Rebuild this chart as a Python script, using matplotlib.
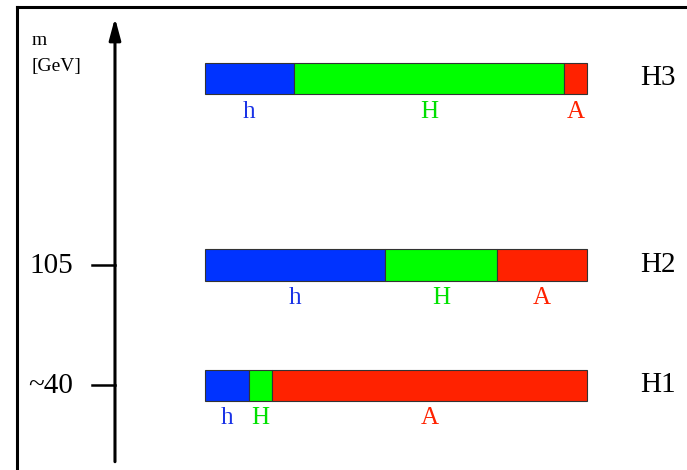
import matplotlib
matplotlib.use('Agg')
import matplotlib.pyplot as plt
import numpy as np

plt.rcParams['font.family'] = ['Liberation Serif', 'DejaVu Serif']

# schematic mass levels [GeV] of the three hierarchies and their fractions
levels = ['H1', 'H2', 'H3']
masses = [40, 105, 206]
tick_labels = ['~40', '105']
tick_masses = [40, 105]
states = ['h', 'H', 'A']
colors = ['#0033ff', '#00ff00', '#ff2200']
label_colors = ['#1a33e6', '#00e000', '#ff2200']
frac_h = [0.115, 0.471, 0.233]
frac_H = [0.060, 0.293, 0.707]
frac_A = [0.825, 0.236, 0.060]

fig = plt.figure(figsize=(6.87, 4.70), dpi=100)
ax = fig.add_axes([0, 0, 1, 1])
ax.set_xlim(-0.5366, 1.2618)
ax.set_ylim(-6, 248.5)
ax.axis('off')

bar_h = 16.8
left = np.zeros(len(levels))
for fr, c, lc, s in zip([frac_h, frac_H, frac_A], colors, label_colors, states):
    fr = np.array(fr)
    ax.barh(masses, fr, left=left, height=bar_h, color=c, edgecolor='#333333', linewidth=0.8)
    for m, l, w in zip(masses, left, fr):
        ax.text(l + w / 2, m - bar_h / 2 - 9.5, s, color=lc, fontsize=18,
                ha='center', va='center')
    left = left + fr

for m, name in zip(masses, levels):
    ax.text(1.14, m, name, fontsize=21, ha='left', va='center')

# vertical mass axis with arrow
ax.annotate('', xy=(-0.2356, 238.8), xytext=(-0.2356, -1.5),
            arrowprops=dict(arrowstyle='-|>,head_width=0.35,head_length=1.3',
                            color='black', lw=2.2, shrinkA=0, shrinkB=0))
for m, t in zip(tick_masses, tick_labels):
    ax.plot([-0.295, -0.2356], [m, m], color='black', lw=1.8)
    ax.text(-0.345, m - 0.5, t, fontsize=21, ha='right', va='center')
ax.text(-0.455, 226.5, 'm', fontsize=14, ha='left', va='center')
ax.text(-0.455, 212.5, '[GeV]', fontsize=14, ha='left', va='center')

# frame (left and top only)
ax.plot([-0.492, -0.492], [-6, 244.7], color='black', lw=2.2, clip_on=False)
ax.plot([-0.492, 1.2618], [244.7, 244.7], color='black', lw=2.2, clip_on=False)

fig.savefig('out.png', dpi=100)
